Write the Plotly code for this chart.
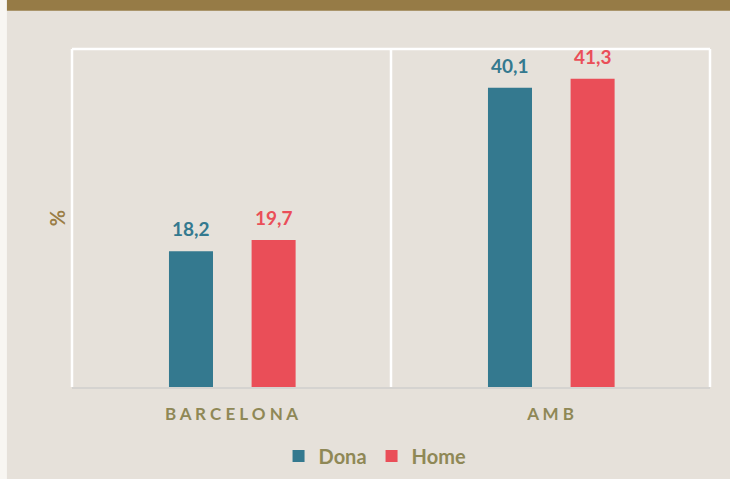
import plotly.graph_objects as go

# data
categories = ["B A R C E L O N A", "A M B"]
dona = [18.2, 40.1]
home = [19.7, 41.3]

teal = "#34798F"
red = "#EA4E58"
olive = "#8F8856"
font_main = "Lato"

bar_w = 0.138
series = [("Dona", dona, teal, -0.196), ("Home", home, red, 0.063)]

x_idx = list(range(len(categories)))

fig = go.Figure()
annotations = []
for name, vals, col, off in series:
    fig.add_trace(go.Bar(
        name=name,
        x=x_idx,
        y=vals,
        width=bar_w,
        offset=off,
        marker=dict(color=col, line=dict(width=0)),
    ))
    for i, v in zip(x_idx, vals):
        annotations.append(dict(
            x=i + off + bar_w / 2, y=v, xref="x", yref="y",
            text=f"{v:.1f}".replace(".", ","),
            showarrow=False, yanchor="bottom", yshift=9,
            font=dict(family=font_main, size=19, color=col, weight="bold"),
        ))

shapes = [
    # left whitish strip and top brown band
    dict(type="rect", xref="paper", yref="paper", x0=-0.14, x1=-0.102, y0=-0.3, y1=1.2,
         fillcolor="#F8F6F2", line=dict(width=0), layer="below"),
    dict(type="rect", xref="paper", yref="paper", x0=-0.102, x1=1.1, y0=1.113, y1=1.2,
         fillcolor="#967B46", line=dict(width=0), layer="below"),
    # white frame lines
    dict(type="line", xref="paper", yref="paper", x0=0, x1=1, y0=1, y1=1,
         line=dict(color="white", width=2.5), layer="below"),
    dict(type="line", xref="paper", yref="paper", x0=0, x1=0, y0=0, y1=1,
         line=dict(color="white", width=2.5), layer="below"),
    dict(type="line", xref="paper", yref="paper", x0=1, x1=1, y0=0, y1=1,
         line=dict(color="white", width=2.5), layer="below"),
    dict(type="line", xref="x", yref="paper", x0=0.5, x1=0.5, y0=0, y1=1,
         line=dict(color="white", width=2.5), layer="below"),
]

fig.update_layout(
    width=730, height=479,
    margin=dict(l=72, r=20, t=49, b=92),
    paper_bgcolor="#E6E1DA",
    plot_bgcolor="#E6E1DA",
    barmode="overlay",
    showlegend=True,
    legend=dict(
        orientation="h", x=0.475, xanchor="center",
        yref="container", y=0.048, yanchor="middle",
        font=dict(family=font_main, size=20, color=olive, weight="bold"),
        itemwidth=30, bgcolor="rgba(0,0,0,0)",
    ),
    shapes=shapes,
    annotations=annotations,
    xaxis=dict(
        range=[-0.5, 1.5], automargin=False,
        tickvals=x_idx, ticktext=categories,
        ticks="outside", ticklen=11, tickcolor="rgba(0,0,0,0)",
        tickfont=dict(family=font_main, size=17, color=olive, weight="bold"),
        showline=True, linecolor="#D5D3D0", linewidth=2,
        showgrid=False, zeroline=False,
    ),
    yaxis=dict(
        range=[0, 45.3], automargin=False,
        showticklabels=False, ticks="", showgrid=False, zeroline=False,
        title=dict(text="%", standoff=0,
                   font=dict(family=font_main, size=20, color="#9A7D45", weight="bold")),
    ),
)

fig.write_html("out.html", config={"displayModeBar": False},
               post_script="document.body.style.margin='0';")
